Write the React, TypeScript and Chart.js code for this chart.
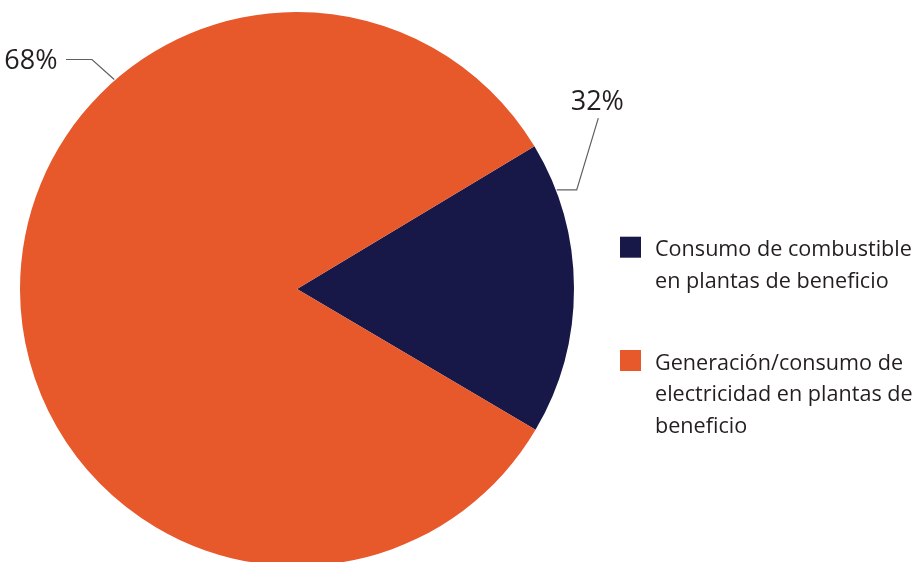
import React, { useEffect, useRef } from "react";
import { Chart, registerables } from "chart.js";

Chart.register(...registerables);

const categories = [
  ["Consumo de combustible", "en plantas de beneficio"],
  ["Generación/consumo de", "electricidad en plantas de", "beneficio"],
];
// slice sizes as drawn in the picture
const sliceValues = [17.1, 82.9];
// percentage labels as printed on the picture
const percentLabels = ["32%", "68%"];
const sliceColors = ["#181848", "#e7582b"];
// angle (degrees, 0 = 3 o'clock, clockwise) where each leader line touches the pie
const labelAngles = [-20.9, -131.1];

const TEXT = "#231f20";
const FONT = "'Open Sans', sans-serif";

const overlay = {
  id: "overlay",
  afterDraw(chart: any) {
    const ctx = chart.ctx;
    const meta = chart.getDatasetMeta(0);
    const arc = meta.data[0];
    const cx = arc.x;
    const cy = arc.y;
    const R = arc.outerRadius;
    ctx.save();
    // leader lines
    ctx.strokeStyle = "#5f6062";
    ctx.lineWidth = 1.2;
    ctx.fillStyle = TEXT;
    ctx.font = `27px ${FONT}`;
    // label 0 (32%)
    {
      const a = (labelAngles[0] * Math.PI) / 180;
      const ax = cx + Math.cos(a) * (R + 1);
      const ay = cy + Math.sin(a) * (R + 1);
      const ex = ax + 20;
      const ey = ay;
      const tx = ex + 21.6;
      const ty = ey - 71.7;
      ctx.beginPath();
      ctx.moveTo(ax, ay);
      ctx.lineTo(ex, ey);
      ctx.lineTo(tx, ty);
      ctx.stroke();
      ctx.textAlign = "center";
      ctx.textBaseline = "alphabetic";
      ctx.fillText(percentLabels[0], tx - 1, ty - 8.5);
    }
    // label 1 (68%)
    {
      const a = (labelAngles[1] * Math.PI) / 180;
      const ax = cx + Math.cos(a) * (R + 1);
      const ay = cy + Math.sin(a) * (R + 1);
      const ex = ax - 22.3;
      const ey = ay - 20;
      const tx = ex - 26;
      const ty = ey;
      ctx.beginPath();
      ctx.moveTo(ax, ay);
      ctx.lineTo(ex, ey);
      ctx.lineTo(tx, ty);
      ctx.stroke();
      ctx.textAlign = "right";
      ctx.textBaseline = "alphabetic";
      ctx.fillText(percentLabels[1], tx - 8.4, ty + 9.4);
    }
    // legend
    const lx = cx + R + 46;
    const boxTops = [cy - 52.3, cy + 61];
    ctx.font = `21.6px ${FONT}`;
    ctx.textAlign = "left";
    categories.forEach((lines, i) => {
      const top = boxTops[i];
      ctx.fillStyle = sliceColors[i];
      ctx.fillRect(lx, top, 21, 21);
      ctx.fillStyle = TEXT;
      lines.forEach((line, j) => {
        ctx.fillText(line, lx + 35, top + 19.5 + j * 31.8);
      });
    });
    ctx.restore();
  },
};

export default function App() {
  const ref = useRef<HTMLCanvasElement>(null);
  useEffect(() => {
    if (!ref.current) return;
    const chart = new Chart(ref.current, {
      type: "pie",
      data: {
        labels: categories.map((c) => c.join(" ")),
        datasets: [
          {
            data: sliceValues,
            backgroundColor: sliceColors,
            borderWidth: 0,
          },
        ],
      },
      options: {
        responsive: false,
        animation: false,
        rotation: 90 - 31,
        layout: { padding: { left: 20, top: 12, right: 340, bottom: 34 } },
        plugins: {
          legend: { display: false },
          tooltip: { enabled: false },
        },
      },
      plugins: [overlay],
    });
    return () => chart.destroy();
  }, []);
  return (
    <div
      style={{
        position: "fixed",
        left: 0,
        top: 0,
        width: 914,
        height: 562,
        overflow: "hidden",
        background: "#fff",
      }}
    >
      <canvas ref={ref} width={914} height={600} style={{ position: "absolute", left: 0, top: 0 }} />
    </div>
  );
}
